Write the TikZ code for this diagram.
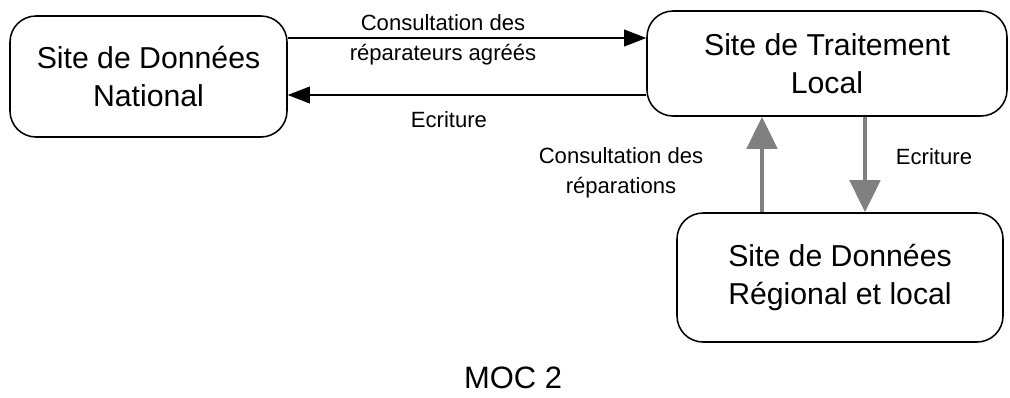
\documentclass[tikz,border=0pt]{standalone}
\usepackage{fontspec}
\setmainfont{Liberation Sans}
\usetikzlibrary{arrows.meta}

\begin{document}
	\begin{tikzpicture}[
		site/.style={draw, line width=1.1pt, rounded corners=0.65cm, align=center,
			font=\fontsize{21.5}{27}\selectfont},
		lbl/.style={align=center, font=\fontsize{15.7}{21.3}\selectfont},
		flux/.style={thick, -{Triangle[length=0.55cm,width=0.42cm]}},
		gros/.style={line width=3.5pt, color=black!50,
			-{Triangle[length=0.8cm,width=0.75cm]}}
		]
		\useasboundingbox (0,0) rectangle (25.25,-9.925);
		
		\node [site, minimum width=6.925cm, minimum height=3.025cm] (national)
		at (3.7125,-1.9125) {Site de Données\\National};
		\node [site, minimum width=9cm, minimum height=2.625cm] (traitement)
		at (20.675,-1.5875) {Site de Traitement\\Local};
		\node [site, minimum width=8.15cm, minimum height=3.225cm] (regional)
		at (21,-6.9375) {Site de Données\\Régional et local};
		
		\coordinate (haut) at (0,-0.95);
		\coordinate (bas) at (0,-2.375);
		\coordinate (monte) at (19.05,0);
		\coordinate (descend) at (21.625,0);
		
		\draw [flux] (national.east |- haut) -- (traitement.west |- haut);
		\draw [flux] (traitement.west |- bas) -- (national.east |- bas);
		\draw [gros] (regional.north -| monte) -- (traitement.south -| monte);
		\draw [gros] (traitement.south -| descend) -- (regional.north -| descend);
		
		\node [lbl] (consultA) at (11.075,-1.0) {Consultation des\\réparateurs agréés};
		\node [lbl] (ecritA) at (11.225,-3.0) {Ecriture};
		\node [lbl] (consultB) at (15.525,-4.325) {Consultation des\\réparations};
		\node [lbl] (ecritB) at (23.35,-3.925) {Ecriture};
		
		\node [font=\fontsize{22}{26}\selectfont] (moc) at (12.825,-9.45) {MOC 2};
	\end{tikzpicture}
\end{document}
